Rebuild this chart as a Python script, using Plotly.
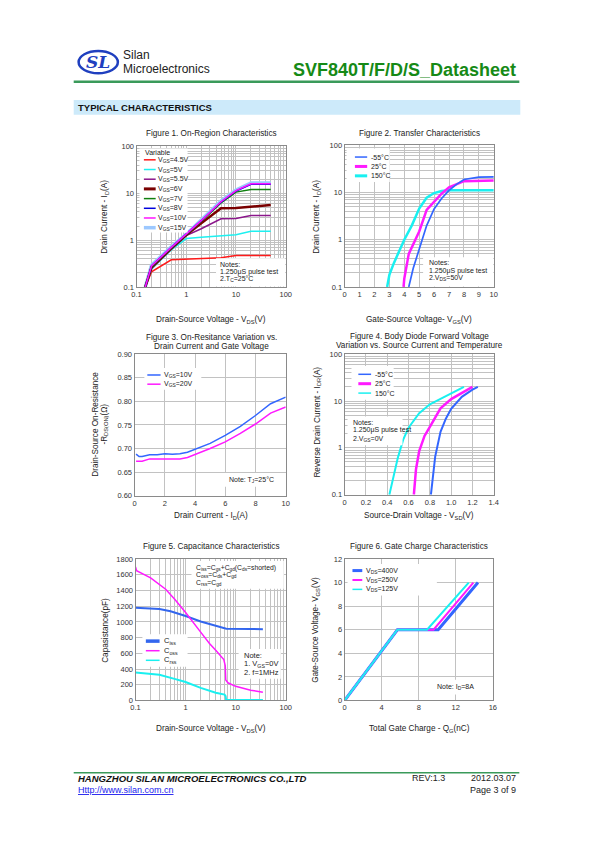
import plotly.graph_objects as go

# ---------------- data ----------------
# Figure 1: On-region characteristics (log-log)
fig1_vds = [0.15, 0.2, 0.5, 1, 2, 5, 10, 20, 50]
fig1_labels = ["4.5V", "5V", "5.5V", "6V", "7V", "8V", "10V", "15V"]
fig1_id_45 = [0.1, 0.21, 0.38, 0.39, 0.40, 0.42, 0.47, 0.47, 0.47]
fig1_id_50 = [0.1, 0.24, 0.62, 1.08, 1.15, 1.25, 1.30, 1.55, 1.55]
fig1_id_55 = [0.1, 0.25, 0.65, 1.25, 1.75, 2.85, 2.90, 3.35, 3.35]
fig1_id_60 = [0.1, 0.26, 0.66, 1.28, 2.3, 4.8, 4.85, 5.1, 5.6]
fig1_id_70 = [0.1, 0.27, 0.68, 1.30, 2.5, 6.2, 10.6, 12.0, 12.0]
fig1_id_80 = [0.1, 0.28, 0.70, 1.32, 2.6, 6.5, 11.2, 15.5, 15.5]
fig1_id_100 = [0.1, 0.28, 0.70, 1.32, 2.6, 6.6, 11.4, 16.0, 16.0]
fig1_id_150 = [0.1, 0.29, 0.72, 1.34, 2.7, 6.8, 11.7, 16.5, 16.5]

# Figure 2: Transfer characteristics
fig2_labels = ["-55\u00b0C", "25\u00b0C", "150\u00b0C"]
fig2_vgs_m55 = [4.3, 4.6, 5.0, 5.5, 6.0, 6.5, 7.0, 7.5, 8.0, 9.0, 10.0]
fig2_id_m55 = [0.1, 0.25, 0.63, 2.0, 4.5, 7.5, 11.2, 15.0, 19.0, 21.3, 21.5]
fig2_vgs_25 = [3.95, 4.0, 4.3, 4.6, 5.0, 5.5, 6.0, 6.5, 7.0, 7.5, 8.0, 10.0]
fig2_id_25 = [0.1, 0.15, 0.5, 0.8, 1.5, 4.3, 6.4, 9.5, 13.0, 15.0, 17.5, 18.0]
fig2_vgs_150 = [2.85, 3.0, 3.3, 4.0, 4.5, 5.0, 5.5, 6.0, 6.5, 7.0, 10.0]
fig2_id_150 = [0.1, 0.18, 0.32, 1.0, 2.0, 4.6, 7.8, 9.8, 10.8, 11.2, 11.2]

# Figure 3: On-resistance vs drain current
fig3_labels = ["10V", "20V"]
fig3_id = [0.1, 0.3, 0.5, 1, 1.5, 2, 2.5, 3, 3.5, 4, 5, 6, 7, 8, 9, 10]
fig3_r_10 = [0.688, 0.683, 0.683, 0.687, 0.687, 0.689, 0.688, 0.689, 0.692, 0.698,
             0.711, 0.728, 0.747, 0.770, 0.795, 0.809]
fig3_r_20 = [0.673, 0.673, 0.673, 0.678, 0.678, 0.678, 0.678, 0.678, 0.681, 0.687,
             0.700, 0.714, 0.732, 0.752, 0.775, 0.788]

# Figure 4: Body diode forward voltage
fig4_vsd_m55 = [0.81, 0.83, 0.85, 0.9, 0.95, 1.0, 1.1, 1.2, 1.25]
fig4_is_m55 = [0.1, 0.3, 0.65, 2.2, 4.2, 6.8, 12.3, 17.5, 20.0]
fig4_vsd_25 = [0.65, 0.67, 0.7, 0.75, 0.8, 0.9, 1.0, 1.1, 1.2]
fig4_is_25 = [0.1, 0.35, 0.85, 1.8, 2.8, 7.0, 11.0, 15.0, 20.0]
fig4_vsd_150 = [0.42, 0.46, 0.5, 0.55, 0.6, 0.7, 0.8, 0.9, 1.0, 1.12]
fig4_is_150 = [0.1, 0.25, 0.62, 1.5, 2.7, 5.5, 8.5, 11.1, 14.5, 20.0]

# Figure 5: Capacitance
fig5_v_ciss = [0.1, 0.3, 0.5, 1, 2, 4, 6.5, 20, 35]
fig5_ciss = [1180, 1165, 1135, 1075, 1005, 945, 912, 910, 905]
fig5_v_coss = [0.1, 0.105, 0.2, 0.4, 0.6, 1, 2, 3, 4, 5, 5.8, 6.2, 6.35, 7, 10, 20, 35]
fig5_coss = [1700, 1650, 1560, 1415, 1290, 1120, 870, 725, 640, 575, 520, 440, 260, 225, 180, 130, 105]
fig5_v_crss = [0.1, 0.3, 0.6, 1, 2, 4, 6, 6.3, 6.45, 35]
fig5_crss = [355, 326, 275, 235, 160, 98, 75, 55, 5, 5]

# Figure 6: Gate charge
fig6_labels = ["400V", "250V", "125V"]
fig6_qg_400 = [0, 5.7, 10.1, 14.4]
fig6_qg_250 = [0, 5.7, 9.6, 13.9]
fig6_qg_125 = [0, 5.7, 8.9, 13.4]
fig6_vgs = [0, 6, 6, 10]

# ---------------- layout helpers ----------------
W, H = 595, 842
FONT = "Liberation Sans, Arial, sans-serif"


def X(px):
    return px / W


def Y(py):
    return 1 - py / H


panels = {
    1: ((134, 286), (144, 286)),
    2: ((346, 498), (143, 286)),
    3: ((132, 286), (354, 497)),
    4: ((346, 498), (354, 496)),
    5: ((133, 286), (561, 704)),
    6: ((346, 497), (561, 704)),
}

fig = go.Figure()
annotations = []
shapes = []


def text(px, py, s, size=8, xanchor="left", color="#222", angle=0, family=FONT):
    annotations.append(dict(x=X(px), y=Y(py), xref="paper", yref="paper", text=s,
                            showarrow=False, xanchor=xanchor, yanchor="middle",
                            textangle=angle, font=dict(size=size, color=color, family=family)))


def pline(x0, y0, x1, y1, color, width):
    shapes.append(dict(type="line", xref="paper", yref="paper", x0=X(x0), x1=X(x1),
                       y0=Y(y0), y1=Y(y1), line=dict(color=color, width=width), layer="above"))


def wbox(x0, y0, x1, y1):
    shapes.append(dict(type="rect", xref="paper", yref="paper",
                       x0=X(x0), x1=X(x1), y0=Y(y1), y1=Y(y0),
                       fillcolor="white", line=dict(width=0), layer="above"))


GRID = "#c2c2c2"
base = dict(showline=True, mirror=True, linecolor="#8a8a8a", linewidth=1, gridcolor=GRID,
            gridwidth=1, zeroline=False, ticks="", fixedrange=True,
            tickfont=dict(size=7.5, color="#333", family=FONT))
minor = dict(dtick="D1", showgrid=True, gridcolor=GRID, gridwidth=1, ticks="")

axes = {}
for p, ((x0, x1), (y0, y1)) in panels.items():
    sfx = "" if p == 1 else str(p)
    axes["xaxis" + sfx] = dict(base, domain=[X(x0), X(x1)], anchor="y" + sfx)
    axes["yaxis" + sfx] = dict(base, domain=[Y(y1), Y(y0)], anchor="x" + sfx)

logvals = [0.1, 1, 10, 100]
logtext = ["0.1", "1", "10", "100"]
logax = dict(type="log", range=[-1, 2], tickvals=logvals, ticktext=logtext, minor=minor)
axes["xaxis"].update(logax)
axes["yaxis"].update(logax)
axes["xaxis2"].update(range=[0, 10], dtick=1, tick0=0)
axes["yaxis2"].update(logax)
axes["xaxis3"].update(range=[0, 10], dtick=2, tick0=0)
axes["yaxis3"].update(range=[0.6, 0.9], dtick=0.05, tick0=0.6, tickformat=".2f")
x4vals = [0, 0.2, 0.4, 0.6, 0.8, 1.0, 1.2, 1.4]
axes["xaxis4"].update(range=[0, 1.4], tickvals=x4vals,
                      ticktext=["0", "0.2", "0.4", "0.6", "0.8", "1.0", "1.2", "1.4"])
axes["yaxis4"].update(logax)
axes["xaxis5"].update(logax)
axes["yaxis5"].update(range=[0, 1800], dtick=200, tick0=0)
axes["xaxis6"].update(range=[0, 16], dtick=4, tick0=0)
axes["yaxis6"].update(range=[0, 12], dtick=2, tick0=0)


def add(p, xs, ys, color, width):
    sfx = "" if p == 1 else str(p)
    fig.add_trace(go.Scatter(x=xs, y=ys, mode="lines", line=dict(color=color, width=width),
                             xaxis="x" + sfx, yaxis="y" + sfx, hoverinfo="skip", showlegend=False))


# ---------- Figure 1 ----------
f1_series = [fig1_id_150, fig1_id_45, fig1_id_50, fig1_id_55, fig1_id_60, fig1_id_70, fig1_id_80, fig1_id_100]
f1_styles = [("#9cc8ff", 3.5), ("#ff1a1a", 1.5), ("#1ef0f0", 1.5), ("#8b168b", 1.5),
             ("#7a0000", 2.5), ("#108010", 1.5), ("#0000dd", 1.5), ("#ff14ff", 1.5)]
for ys, (c, w) in zip(f1_series, f1_styles):
    add(1, fig1_vds, ys, c, w)

wbox(137, 146, 186, 231)
text(141, 150.5, "Variable", 7)
leg1 = [("#ff1a1a", 1.5), ("#1ef0f0", 1.5), ("#8b168b", 1.5), ("#7a0000", 3),
        ("#108010", 1.5), ("#0000dd", 1.5), ("#ff14ff", 1.5), ("#9cc8ff", 3.5)]
for i, (lab, (c, w)) in enumerate(zip(fig1_labels, leg1)):
    yy = 157.5 + i * 9.8
    pline(141.5, yy, 153.5, yy, c, w)
    text(153.5, yy, "V<sub>GS</sub>=" + lab, 7)
wbox(215, 257, 285.5, 285.5)
text(217, 263, "Notes:", 7)
text(217, 270.5, "1.250\u03bcS pulse test", 7)
text(217, 278, "2.T<sub>C</sub>=25\u00b0C", 7)
text(210, 131, "Figure 1. On-Region Characteristics", 8.2, "center")
text(210, 319, "Drain-Source Voltage - V<sub>DS</sub>(V)", 8.2, "center")
text(102, 215, "Drain Current - I<sub>D</sub>(A)", 8.2, "center", angle=-90)

# ---------- Figure 2 ----------
add(2, fig2_vgs_150, fig2_id_150, "#19f0f0", 2.5)
add(2, fig2_vgs_25, fig2_id_25, "#ff1aff", 2.5)
add(2, fig2_vgs_m55, fig2_id_m55, "#3366ff", 1.7)
wbox(348, 146, 392, 180)
for i, (lab, c, w) in enumerate(zip(fig2_labels, ["#3366ff", "#ff1aff", "#19f0f0"], [1.5, 3, 3])):
    yy = 154.7 + i * 9.5
    pline(356.5, yy, 369, yy, c, w)
    text(371, yy, lab, 7)
wbox(426, 256, 497.5, 285.5)
text(430, 261, "Notes:", 7)
text(430, 269.5, "1.250\u03bcS pulse test", 7)
text(430, 277, "2.V<sub>DS</sub>=50V", 7)
text(422, 131, "Figure 2. Transfer Characteristics", 8.2, "center")
text(422, 319, "Gate-Source Voltage- V<sub>GS</sub>(V)", 8.2, "center")
text(318, 215, "Drain Current - I<sub>D</sub>(A)", 8.2, "center", angle=-90)

# ---------- Figure 3 ----------
add(3, fig3_id, fig3_r_10, "#3366ff", 1.5)
add(3, fig3_id, fig3_r_20, "#ff1aff", 1.5)
wbox(142, 368, 200, 390)
for i, (lab, c) in enumerate(zip(fig3_labels, ["#3366ff", "#ff1aff"])):
    yy = 375 + i * 9.3
    pline(145, yy, 158.5, yy, c, 1.5)
    text(160, yy, "V<sub>GS</sub>=" + lab, 7)
wbox(223, 474, 282, 488)
text(226, 481, "Note: T<sub>J</sub>=25\u00b0C", 7)
text(210, 337, "Figure 3. On-Resitance Variation vs.", 8.2, "center")
text(210, 346, "Drain Current and Gate Voltage", 8.2, "center")
text(210, 518, "Drain Current - I<sub>D</sub>(A)", 8.2, "center")
text(92, 425, "Drain-Source On-Resistance", 8.2, "center", angle=-90)
text(102, 425, "-R<sub>DS(ON)</sub>(\u03a9)", 8.2, "center", angle=-90)

# ---------- Figure 4 ----------
add(4, fig4_vsd_150, fig4_is_150, "#19f0f0", 2)
add(4, fig4_vsd_25, fig4_is_25, "#ff1aff", 2.5)
add(4, fig4_vsd_m55, fig4_is_m55, "#3366ff", 2)
wbox(353, 366, 396, 400)
for i, (lab, c, w) in enumerate(zip(fig2_labels, ["#3366ff", "#ff1aff", "#19f0f0"], [1.5, 3, 1.5])):
    yy = 374.3 + i * 9.5
    pline(360, yy, 373, yy, c, w)
    text(375, yy, lab, 7)
wbox(349, 417, 405, 446)
text(353, 423, "Notes:", 7)
text(353, 431, "1.250\u03bcS pulse test", 7)
text(353, 439.5, "2.V<sub>GS</sub>=0V", 7)
text(422, 336.5, "Figure 4. Body Diode Forward Voltage", 8.2, "center")
text(422, 345.5, "Variation vs. Source Current and Temperature", 8.2, "center")
text(422, 518, "Source-Drain Voltage - V<sub>SD</sub>(V)", 8.2, "center")
text(319, 423, "Reverse Drain Current - I<sub>DR</sub>(A)", 8.2, "center", angle=-90)

# ---------- Figure 5 ----------
add(5, fig5_v_ciss, fig5_ciss, "#3366ee", 2)
add(5, fig5_v_coss, fig5_coss, "#ff1aff", 1.5)
add(5, fig5_v_crss, fig5_crss, "#19f0f0", 2)
wbox(190, 563, 284, 591)
text(193, 570, "C<sub>iss</sub>=C<sub>gs</sub>+C<sub>gd</sub>(C<sub>ds</sub>=shorted)", 6.8)
text(193, 577.5, "C<sub>oss</sub>=C<sub>ds</sub>+C<sub>gd</sub>", 6.8)
text(193, 585, "C<sub>rss</sub>=C<sub>gd</sub>", 6.8)
wbox(140, 637, 186, 670)
for i, (lab, c, w) in enumerate(zip(["C<sub>iss</sub>", "C<sub>oss</sub>", "C<sub>rss</sub>"],
                                    ["#3366ee", "#ff1aff", "#19f0f0"], [3.5, 1.5, 1.5])):
    yy = 644 + i * 9.7
    pline(143.5, yy, 157.5, yy, c, w)
    text(160, yy, lab, 7.5)
wbox(238, 652, 281, 682)
text(241.5, 659, "Note:", 7.5)
text(241.5, 667.5, "1. V<sub>GS</sub>=0V", 7.5)
text(241.5, 676, "2. f=1MHz", 7.5)
text(210, 548, "Figure 5. Capacitance Characteristics", 8.2, "center")
text(210, 733, "Drain-Source Voltage - V<sub>DS</sub>(V)", 8.2, "center")
text(102.5, 633, "Capasistance(pF)", 8.2, "center", angle=-90)

# ---------- Figure 6 ----------
add(6, fig6_qg_400, fig6_vgs, "#3366ff", 3)
add(6, fig6_qg_250, fig6_vgs, "#ff1aff", 2)
add(6, fig6_qg_125, fig6_vgs, "#19f0f0", 2)
wbox(349, 566, 440, 598)
for i, (lab, c, w) in enumerate(zip(fig6_labels, ["#3366ff", "#ff1aff", "#19f0f0"], [3, 2, 1.5])):
    yy = 572.7 + i * 9.5
    pline(354, yy, 364, yy, c, w)
    text(366, yy, "V<sub>DS</sub>=" + lab, 7)
wbox(434, 683, 490, 698)
text(438, 690.5, "Note: I<sub>D</sub>=8A", 7)
text(422, 548, "Figure 6. Gate Charge Characteristics", 8.2, "center")
text(422, 733, "Total Gate Charge - Q<sub>G</sub>(nC)", 8.2, "center")
text(317.5, 633, "Gate-Source Voltage- V<sub>GS</sub>(V)", 8.2, "center", angle=-90)

# ---------- Page header / footer ----------
shapes.append(dict(type="circle", xref="paper", yref="paper", x0=X(75), x1=X(115),
                   y0=Y(70), y1=Y(47.5), line=dict(color="#1f3fbf", width=2.5), layer="above"))
text(95, 59, "<b><i>SL</i></b>", 17, "center", color="#1f3fbf", family="DejaVu Serif, serif")
text(118, 52, "Silan", 12, color="#222")
text(118, 66, "Microelectronics", 12, color="#222")
annotations.append(dict(x=X(523), y=Y(66.5), xref="paper", yref="paper",
                        text="<b>SVF840T/F/D/S_Datasheet</b>", showarrow=False,
                        xanchor="right", yanchor="middle",
                        font=dict(size=18, color="#168a16", family=FONT)))
shapes.append(dict(type="line", xref="paper", yref="paper", x0=X(70), x1=X(524),
                   y0=Y(78.5), y1=Y(78.5), line=dict(color="#3a9a5a", width=2.5)))
shapes.append(dict(type="rect", xref="paper", yref="paper", x0=X(70), x1=X(525),
                   y0=Y(112), y1=Y(97), fillcolor="#cdeafa", line=dict(width=0), layer="below"))
text(72, 104.5, "<b>TYPICAL CHARACTERISTICS</b>", 9.5, color="#111")

shapes.append(dict(type="line", xref="paper", yref="paper", x0=X(70), x1=X(524),
                   y0=Y(777), y1=Y(777), line=dict(color="#3a9a5a", width=1.5)))
text(72, 782.5, "<b><i>HANGZHOU SILAN MICROELECTRONICS CO.,LTD</i></b>", 9.5, color="#111")
text(72, 794.5, "<u>Http://www.silan.com.cn</u>", 9, color="#1a1aee")
text(413, 782.5, "REV:1.3", 9, color="#222")
text(523, 782.5, "2012.03.07", 9, "right", color="#222")
text(523, 794.5, "Page 3 of 9", 9, "right", color="#222")

fig.update_layout(width=W, height=H, margin=dict(l=0, r=0, t=0, b=0),
                  paper_bgcolor="white", plot_bgcolor="white", showlegend=False,
                  font=dict(family=FONT, color="#222"),
                  annotations=annotations, shapes=shapes, **axes)

fig.write_html("out.html", config={"displayModeBar": False},
               post_script="document.body.style.margin='0';document.body.style.overflow='hidden';")
